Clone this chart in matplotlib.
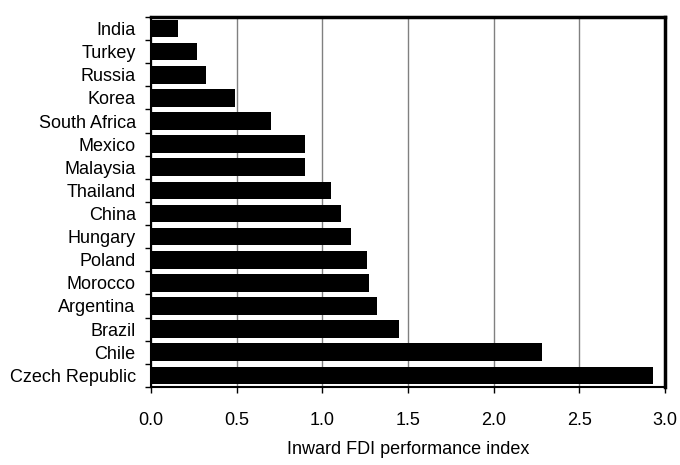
import numpy as np
import matplotlib.pyplot as plt

countries = ['India', 'Turkey', 'Russia', 'Korea', 'South Africa', 'Mexico',
             'Malaysia', 'Thailand', 'China', 'Hungary', 'Poland', 'Morocco',
             'Argentina', 'Brazil', 'Chile', 'Czech Republic']
values = [0.16, 0.27, 0.32, 0.49, 0.70, 0.90, 0.90, 1.05, 1.11, 1.17,
          1.26, 1.27, 1.32, 1.45, 2.28, 2.93]
xticks = [0.0, 0.5, 1.0, 1.5, 2.0, 2.5, 3.0]

plt.rcParams['font.family'] = ['Liberation Sans', 'DejaVu Sans']

fig = plt.figure(figsize=(6.8, 4.65), dpi=100)
ax = fig.add_axes([0.222, 0.168, 0.756, 0.7955])

y = np.arange(len(countries))
ax.barh(y, values, height=0.76, color='black', zorder=3)

ax.set_xlim(0, 3.0)
ax.set_ylim(len(countries) - 0.5, -0.5)
ax.set_xticks(xticks)
ax.set_xticklabels(['%.1f' % t for t in xticks])
ax.set_yticks(y)
ax.set_yticklabels(countries)
ax.set_yticks(np.arange(len(countries) + 1) - 0.5, minor=True)

ax.xaxis.grid(True, color='#808080', linewidth=1.0, zorder=0)
ax.tick_params(axis='y', which='major', length=0, pad=11, labelsize=13)
ax.tick_params(axis='y', which='minor', length=4, width=1, direction='out')
ax.tick_params(axis='x', which='major', length=4, width=1, pad=14, labelsize=13)

ax.spines['top'].set_linewidth(2.5)
ax.spines['right'].set_linewidth(2.5)
ax.spines['left'].set_linewidth(1.5)
ax.spines['bottom'].set_linewidth(1.5)

ax.set_xlabel('Inward FDI performance index', fontsize=13, labelpad=9)

plt.savefig('out.png', dpi=100)
